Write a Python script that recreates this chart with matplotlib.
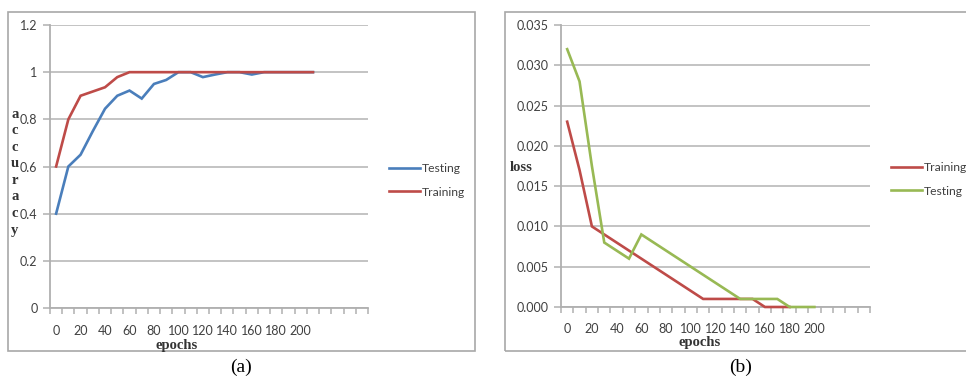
import matplotlib
matplotlib.use("Agg")
import matplotlib.pyplot as plt
from matplotlib.patches import Rectangle
from matplotlib.ticker import FuncFormatter, MultipleLocator

# ---------------- data ----------------
acc_epochs = [0, 10, 20, 30, 40, 50, 60, 70, 80, 90, 100, 110, 120, 130, 140,
              150, 160, 170, 180, 190, 200, 210]
acc_testing = [0.40, 0.60, 0.65, 0.75, 0.845, 0.90, 0.922, 0.888, 0.95, 0.967, 1.0,
               1.0, 0.979, 0.99, 1.0, 1.0, 0.99, 1.0, 1.0, 1.0, 1.0, 1.0]
acc_training = [0.60, 0.80, 0.90, 0.918, 0.936, 0.979, 1.0, 1.0, 1.0, 1.0, 1.0,
                1.0, 1.0, 1.0, 1.0, 1.0, 1.0, 1.0, 1.0, 1.0, 1.0, 1.0]

loss_epochs_train = [0, 10, 20, 30, 40, 50, 60, 70, 80, 90, 100, 110, 120, 130,
                     140, 150, 160, 170, 180]
loss_training = [0.023, 0.017, 0.010, 0.009, 0.008, 0.007, 0.006, 0.005, 0.004,
                 0.003, 0.002, 0.001, 0.001, 0.001, 0.001, 0.001, 0.0, 0.0, 0.0]
loss_epochs_test = [0, 10, 20, 30, 40, 50, 60, 70, 80, 90, 100, 110, 120, 130,
                    140, 150, 160, 170, 180, 190, 200]
loss_testing = [0.032, 0.028, 0.0175, 0.008, 0.007, 0.006, 0.009, 0.008, 0.007,
                0.006, 0.005, 0.004, 0.003, 0.002, 0.001, 0.001, 0.001, 0.001,
                0.0, 0.0, 0.0]

x_tick_labels = [0, 20, 40, 60, 80, 100, 120, 140, 160, 180, 200]

# ---------------- style ----------------
BLUE = "#4A7EBB"
RED = "#BE4B48"
GREEN = "#98B954"
GRID = "#BEBEBE"
AXC = "#B0B0B0"
TXT = "#404040"
TICKFONT = "Lato"
SERIF = "Liberation Serif"

W, H = 966, 383
fig = plt.figure(figsize=(W / 100, H / 100), dpi=100)


def fx(px):
    return px / W


def fy(py):
    return 1 - py / H


# panel boxes
fig.patches.append(Rectangle((fx(8), fy(351)), fx(475) - fx(8), fy(12) - fy(351),
                             transform=fig.transFigure, fill=False,
                             edgecolor="#A8A8A8", linewidth=1.2))
fig.patches.append(Rectangle((fx(505), fy(351)), fx(980) - fx(505), fy(12) - fy(351),
                             transform=fig.transFigure, fill=False,
                             edgecolor="#A8A8A8", linewidth=1.2, clip_on=False))


def style_axes(ax, ncat, pad):
    for s in ["top", "right"]:
        ax.spines[s].set_visible(False)
    for s in ["left", "bottom"]:
        ax.spines[s].set_color(AXC)
        ax.spines[s].set_linewidth(1.3)
    ax.set_xlim(-5, -5 + 10 * ncat)
    ax.xaxis.set_minor_locator(MultipleLocator(10, offset=5))
    ax.set_xticks(x_tick_labels)
    ax.set_xticklabels([str(v) for v in x_tick_labels])
    ax.tick_params(axis="x", which="major", length=0, pad=pad,
                   labelsize=9, labelcolor=TXT)
    ax.tick_params(axis="x", which="minor", length=4, width=1.1, color=AXC,
                   direction="out")
    ax.tick_params(axis="y", length=5, width=1.1, color=AXC, direction="out",
                   labelsize=9, labelcolor=TXT, pad=4)
    for lab in ax.get_xticklabels() + ax.get_yticklabels():
        lab.set_fontfamily(TICKFONT)
    ax.grid(axis="y", color=GRID, linewidth=1.3)
    ax.set_axisbelow(True)


LW = 1.9

# ---------------- panel (a) ----------------
ax1 = fig.add_axes([fx(50), fy(308), fx(368) - fx(50), fy(25) - fy(308)])
ax1.plot(acc_epochs, acc_testing, color=BLUE, linewidth=LW, label="Testing",
         solid_joinstyle="miter", zorder=3, clip_on=False)
ax1.plot(acc_epochs, acc_training, color=RED, linewidth=LW, label="Training",
         solid_joinstyle="miter", zorder=3, clip_on=False)
ax1.set_ylim(0, 1.2)
ax1.set_yticks([0, 0.2, 0.4, 0.6, 0.8, 1.0, 1.2])
ax1.yaxis.set_major_formatter(FuncFormatter(lambda v, p: f"{v:g}"))
style_axes(ax1, 26, 12.5)
ax1.legend(loc="upper left", bbox_to_anchor=(fx(384), fy(158)),
           bbox_transform=fig.transFigure, frameon=False, handlelength=2.6,
           handletextpad=0.15, labelspacing=1.05, borderaxespad=0,
           prop={"family": TICKFONT, "size": 8.7}, labelcolor=TXT)

for i, ch in enumerate("accuracy"):
    fig.text(fx(15), fy(114 + 16.6 * i), ch, family=SERIF, fontsize=10.5,
             fontweight="bold", color="#333333", ha="center", va="center")
fig.text(fx(177), fy(345.5), "epochs", family=SERIF, fontsize=10.5,
         fontweight="bold", color="#333333", ha="center", va="center")
fig.text(fx(241), fy(367), "(a)", family=SERIF, fontsize=14, color="black",
         ha="center", va="center")

# ---------------- panel (b) ----------------
ax2 = fig.add_axes([fx(561), fy(307), fx(870) - fx(561), fy(25) - fy(307)])
ax2.plot(loss_epochs_train, loss_training, color=RED, linewidth=LW,
         label="Training", solid_joinstyle="miter", zorder=3, clip_on=False)
ax2.plot(loss_epochs_test, loss_testing, color=GREEN, linewidth=LW,
         label="Testing", solid_joinstyle="miter", zorder=3, clip_on=False)
ax2.set_ylim(0, 0.035)
ax2.set_yticks([0, 0.005, 0.010, 0.015, 0.020, 0.025, 0.030, 0.035])
ax2.yaxis.set_major_formatter(FuncFormatter(lambda v, p: f"{v:.3f}"))
style_axes(ax2, 25, 11.5)
ax2.legend(loc="upper left", bbox_to_anchor=(fx(886), fy(157)),
           bbox_transform=fig.transFigure, frameon=False, handlelength=2.6,
           handletextpad=0.15, labelspacing=1.05, borderaxespad=0,
           prop={"family": TICKFONT, "size": 8.7}, labelcolor=TXT)

fig.text(fx(521), fy(167), "loss", family=SERIF, fontsize=10.5,
         fontweight="bold", color="#333333", ha="center", va="center")
fig.text(fx(700), fy(342.5), "epochs", family=SERIF, fontsize=10.5,
         fontweight="bold", color="#333333", ha="center", va="center")
fig.text(fx(741), fy(367), "(b)", family=SERIF, fontsize=14, color="black",
         ha="center", va="center")

fig.savefig("out.png", dpi=100)
